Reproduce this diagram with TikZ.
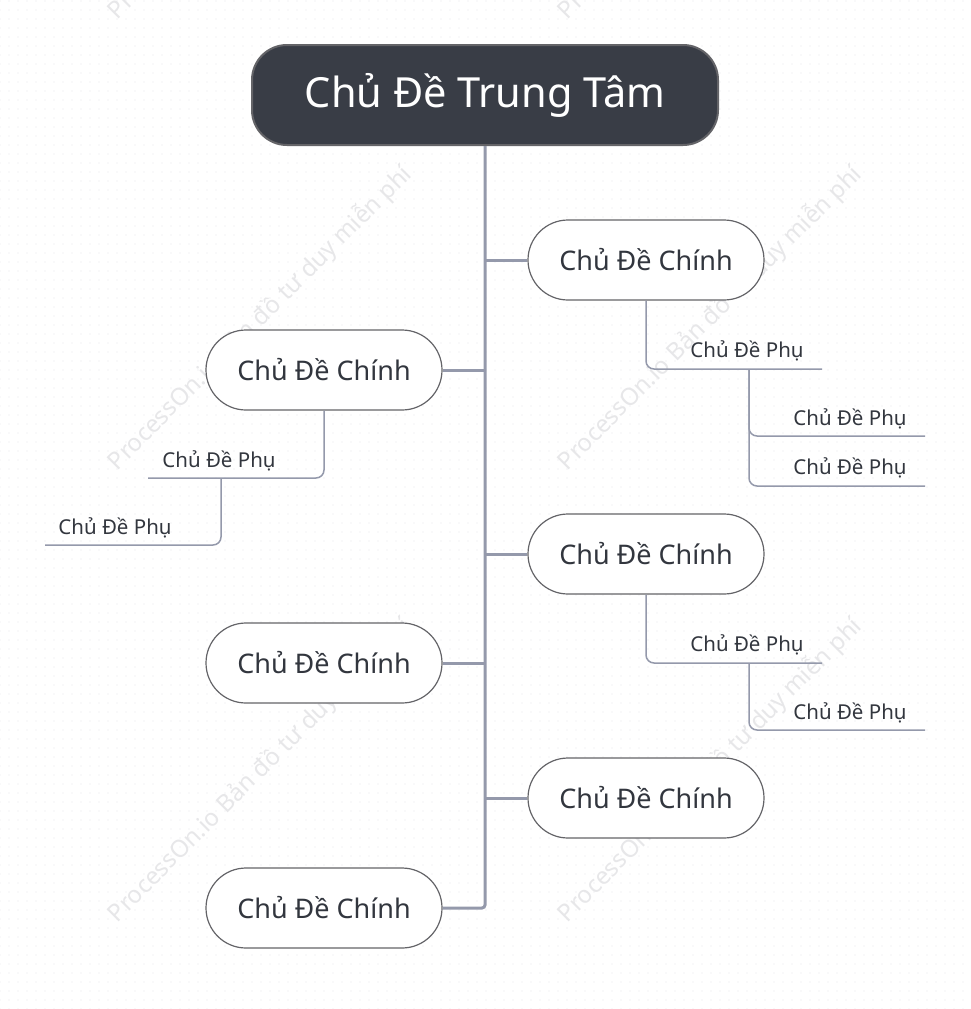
\documentclass[tikz,border=0pt]{standalone}
\usepackage{fontspec}
\setmainfont{Noto Sans}
\usetikzlibrary{patterns.meta}
\definecolor{linec}{RGB}{148,153,171}
\definecolor{nodeb}{RGB}{100,100,104}
\definecolor{darkf}{RGB}{57,61,70}
\definecolor{txt}{RGB}{50,54,62}
\definecolor{wm}{RGB}{231,231,233}
\definecolor{dotc}{RGB}{232,232,235}
\tikzset{
  centre/.style={draw=nodeb, line width=2pt, fill=darkf, rounded corners=35pt,
    minimum width=466pt, minimum height=100pt, text=white, font=\fontsize{41.5}{48}\selectfont, inner sep=0pt},
  mainbox/.style={draw=nodeb, line width=1.2pt, fill=white, rounded corners=40pt,
    minimum width=236pt, minimum height=80pt, text=txt, font=\fontsize{27}{32}\selectfont, inner sep=0pt},
  sublabel/.style={text=txt, font=\fontsize{20.5}{24}\selectfont, inner sep=0pt},
  trunk/.style={draw=linec, line width=3pt, rounded corners=3pt},
  twig/.style={draw=linec, line width=1.5pt, rounded corners=8pt},
  wmark/.style={text=wm, font=\fontsize{24}{28}\selectfont, rotate=45, inner sep=0pt}
}
\begin{document}
\begin{tikzpicture}[x=1pt,y=-1pt]
\useasboundingbox (0,0) rectangle (971,1009);
\fill[white] (0,0) rectangle (971,1009);
\fill[pattern={Dots[distance=9pt,radius=0.7pt]}, pattern color=dotc] (0,0) rectangle (971,1009);
\begin{scope}
\clip (0,0) rectangle (971,1009);
\foreach \px/\py [count=\i] in {260/-133, 710/-133, 260/318, 710/318, 260/770, 710/770}{
  \node[wmark] (wm\i) at (\px,\py) {ProcessOn.io Bản đồ tư duy miễn phí};
}
\end{scope}

% centre
\node[centre] (c) at (485,95) {\raisebox{-2pt}{Chủ Đề Trung Tâm}};

% main topics
\node[mainbox] (m1) at (646,260) {Chủ Đề Chính};
\node[mainbox] (m2) at (324,370) {Chủ Đề Chính};
\node[mainbox] (m3) at (646,554) {Chủ Đề Chính};
\node[mainbox] (m4) at (324,663) {Chủ Đề Chính};
\node[mainbox] (m5) at (646,798) {Chủ Đề Chính};
\node[mainbox] (m6) at (324,908) {Chủ Đề Chính};

% trunk
\draw[trunk] (c.south) -- (c.south |- m6.east) -- (m6.east);
\foreach \m in {m1,m3,m5}{
  \draw[trunk,rounded corners=0pt] (c.south |- \m.west) -- (\m.west);
}
\foreach \m in {m2,m4}{
  \draw[trunk,rounded corners=0pt] (c.south |- \m.east) -- (\m.east);
}

% sub topics of m1
\coordinate (e11) at (822,369);
\coordinate (b11) at (749,369);
\coordinate (e12) at (925,436);
\coordinate (e13) at (925,486);
\node[sublabel] (s11) at (747,351) {Chủ Đề Phụ};
\node[sublabel] (s12) at (850,419) {Chủ Đề Phụ};
\node[sublabel] (s13) at (850,468) {Chủ Đề Phụ};
\draw[twig] (m1.south) |- (e11);
\draw[twig] (b11) |- (e12);
\draw[twig] (b11) |- (e13);

% sub topics of m2
\coordinate (e21) at (148,478);
\coordinate (b21) at (221,478);
\coordinate (e22) at (45,545);
\node[sublabel] (s21) at (219,461) {Chủ Đề Phụ};
\node[sublabel] (s22) at (115,528) {Chủ Đề Phụ};
\draw[twig] (m2.south) |- (e21);
\draw[twig] (b21) |- (e22);

% sub topics of m3
\coordinate (e31) at (822,663);
\coordinate (b31) at (749,663);
\coordinate (e32) at (925,730);
\node[sublabel] (s31) at (747,645) {Chủ Đề Phụ};
\node[sublabel] (s32) at (850,713) {Chủ Đề Phụ};
\draw[twig] (m3.south) |- (e31);
\draw[twig] (b31) |- (e32);
\end{tikzpicture}
\end{document}
